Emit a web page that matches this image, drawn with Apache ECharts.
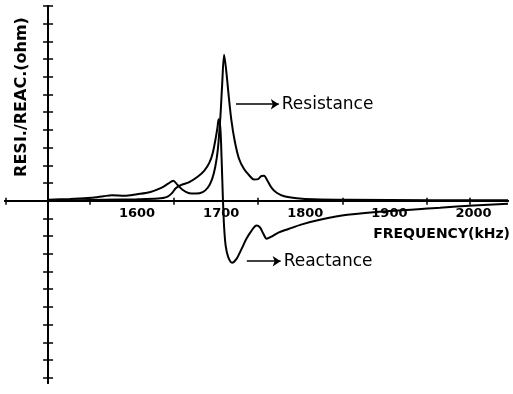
<!DOCTYPE html>
<html>
<head>
<meta charset="utf-8">
<script src="https://cdn.jsdelivr.net/npm/echarts@6/dist/echarts.min.js"></script>
<style>
  html, body { margin: 0; padding: 0; background: #fff; }
  #chart { width: 513px; height: 394px; }
</style>
</head>
<body>
<div id="chart"></div>
<script>
// Frequency sweep (kHz) and the measured resistance / reactance (ohm)
const freqR = [1494, 1520, 1545, 1560, 1570, 1585, 1600, 1615, 1628, 1637, 1643, 1648, 1654, 1662, 1670, 1678, 1684, 1689, 1693, 1696, 1699, 1701, 1703.5, 1706, 1709, 1712, 1716, 1721, 1727, 1733, 1739, 1744, 1748, 1751, 1755, 1760, 1766, 1775, 1790, 1810, 1850, 1950, 2041];
const resistance = [0.05, 0.1, 0.16, 0.25, 0.31, 0.28, 0.37, 0.48, 0.71, 0.96, 1.13, 0.9, 0.62, 0.42, 0.4, 0.48, 0.73, 1.19, 1.92, 2.88, 4.7, 6.4, 8.25, 7.35, 5.9, 4.6, 3.4, 2.4, 1.8, 1.45, 1.2, 1.22, 1.4, 1.41, 1.13, 0.73, 0.45, 0.25, 0.14, 0.08, 0.05, 0.03, 0.03];

const freqX = [1494, 1530, 1560, 1600, 1625, 1635, 1641, 1646, 1652, 1662, 1672, 1680, 1686, 1690, 1693, 1695.5, 1697, 1699, 1700.5, 1702, 1703.5, 1705.5, 1708.5, 1713, 1718, 1724, 1730, 1736, 1742, 1746, 1750, 1754, 1759, 1768, 1780, 1795, 1820, 1850, 1900, 1960, 2000, 2041];
const reactance = [0.02, 0.03, 0.05, 0.08, 0.12, 0.2, 0.4, 0.7, 0.88, 1.05, 1.35, 1.7, 2.15, 2.7, 3.4, 4.1, 4.6, 4.1, 2.4, 0.2, -1.5, -2.6, -3.2, -3.5, -3.3, -2.75, -2.15, -1.7, -1.4, -1.5, -1.85, -2.15, -2.05, -1.8, -1.6, -1.35, -1.05, -0.8, -0.58, -0.4, -0.27, -0.17];

// Axis ticks and labels
const freqTicks = [1443.3, 1544, 1644, 1744, 1844, 1944, 1995];
const freqLabels = [1600, 1700, 1800, 1900, 2000];
const valueTicks = [-10, -9, -8, -7, -6, -5, -4, -3, -2, -1, 0, 1, 2, 3, 4, 5, 6, 7, 8, 9, 10, 11];

const zip = (xs, ys) => xs.map((x, i) => [x, ys[i]]);

const FMIN = 1443, FMAX = 2041, VMIN = -10.3, VMAX = 11;
const GRID = { left: 5, right: 3, top: 6, bottom: 11 };
const ink = '#000';

const chart = echarts.init(document.getElementById('chart'), null, { renderer: 'canvas' });

// the frequency axis crosses the value axis at zero; shift it up from the grid bottom
const plotH = 394 - GRID.top - GRID.bottom;
const zeroShift = -plotH * (0 - VMIN) / (VMAX - VMIN);
// the value axis stands at 1494 kHz inside the grid
const plotW = 513 - GRID.left - GRID.right;
const yShift = -plotW * (1494 - FMIN) / (FMAX - FMIN);

const freqAxis = (inside) => ({
  type: 'value', min: FMIN, max: FMAX, position: 'bottom', offset: zeroShift,
  axisLine: { onZero: false, lineStyle: { color: ink, width: 2 } },
  axisTick: { customValues: freqTicks, inside: inside, length: inside ? 3 : 4, lineStyle: { color: ink, width: 1.5 } },
  splitLine: { show: false }
});
const valueAxis = (inside) => ({
  type: 'value', min: VMIN, max: VMAX, position: 'left', offset: yShift,
  axisLine: { show: true, onZero: false, lineStyle: { color: ink, width: 2 } },
  axisTick: { show: true, inside: inside, customValues: valueTicks, length: 5, lineStyle: { color: ink, width: 1.5 } },
  axisLabel: { show: false },
  splitLine: { show: false }
});

const xMain = freqAxis(false);
xMain.axisLabel = {
  customValues: freqLabels, margin: 6, color: ink,
  fontFamily: 'DejaVu Sans', fontWeight: 'bold', fontSize: 13,
  formatter: (v) => String(v)
};
xMain.name = 'FREQUENCY(kHz)';
xMain.nameLocation = 'end';
xMain.nameGap = 2;
xMain.nameTextStyle = {
  color: ink, fontFamily: 'DejaVu Sans', fontWeight: 'bold', fontSize: 14,
  align: 'right', verticalAlign: 'top', padding: [27, 0, 0, 0]
};
const xTop = freqAxis(true);
xTop.axisLabel = { show: false };

const note = (text, from, to) => ({
  silent: true, symbol: ['none', 'arrow'], symbolSize: 8,
  lineStyle: { color: ink, width: 1.5, type: 'solid' },
  label: { show: true, position: 'end', formatter: text, color: ink, fontFamily: 'DejaVu Sans', fontSize: 17, distance: 3 },
  data: [[{ coord: from }, { coord: to }]]
});

chart.setOption({
  animation: false,
  backgroundColor: '#fff',
  grid: Object.assign({ containLabel: false }, GRID),
  xAxis: [xMain, xTop],
  yAxis: [valueAxis(false), valueAxis(true)],
  series: [
    {
      name: 'Resistance', type: 'line', xAxisIndex: 0, yAxisIndex: 0,
      data: zip(freqR, resistance), smooth: 0.3, showSymbol: false,
      lineStyle: { color: ink, width: 2 },
      markLine: note('Resistance', [1717.6, 5.45], [1768.5, 5.45])
    },
    {
      name: 'Reactance', type: 'line', xAxisIndex: 0, yAxisIndex: 0,
      data: zip(freqX, reactance), smooth: 0.3, showSymbol: false,
      lineStyle: { color: ink, width: 2 },
      markLine: note('Reactance', [1730.5, -3.42], [1770.7, -3.42])
    }
  ],
  graphic: [
    {
      type: 'text', x: 22, y: 97, rotation: Math.PI / 2,
      style: {
        text: 'RESI./REAC.(ohm)', fill: ink,
        font: 'bold 16px "DejaVu Sans"', textAlign: 'center', textVerticalAlign: 'middle'
      }
    }
  ]
});
</script>
</body>
</html>
